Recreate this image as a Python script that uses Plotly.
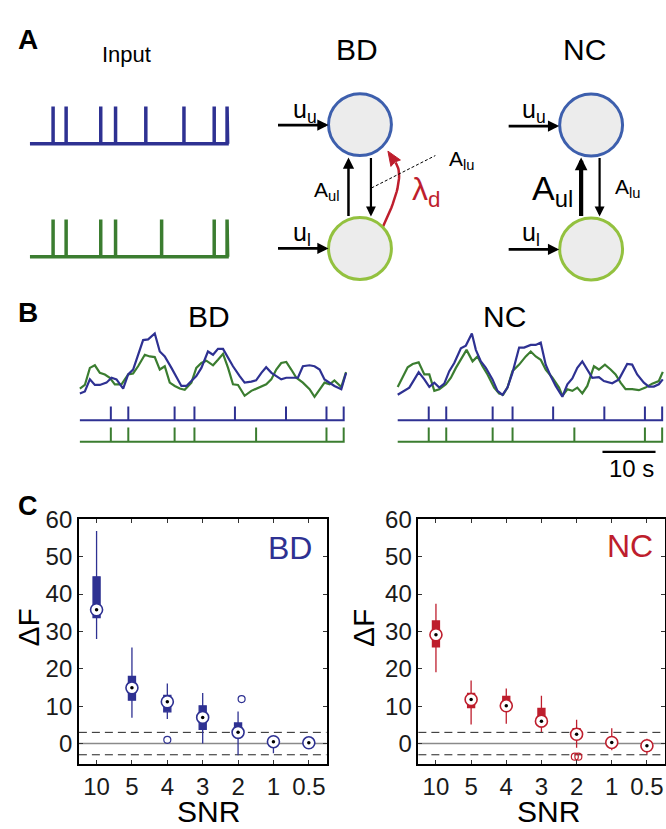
import plotly.graph_objects as go

W, H = 666, 829
FONT = "Liberation Sans, Arial, sans-serif"

# ---------------- data ----------------
snr_labels = ["10", "5", "4", "3", "2", "1", "0.5"]
snr_idx = [0, 1, 2, 3, 4, 5, 6]

bd_upper = [56.9, 25.7, 16.1, 13.5, 8.6, 0.9, 0.5]
bd_q3 = [44.6, 18.0, 12.9, 10.1, 5.5, 0.9, 0.5]
bd_median = [35.8, 14.9, 11.2, 7.0, 3.0, 0.5, 0.2]
bd_q1 = [33.7, 11.6, 8.5, 3.8, 2.6, 0.2, 0.0]
bd_lower = [28.0, 6.9, 6.6, 0.0, -3.1, -2.6, -0.3]
bd_out_x = [2.0, 4.1]
bd_out_y = [1.0, 11.9]

nc_upper = [37.4, 16.9, 14.7, 12.8, 6.4, 4.1, 1.3]
nc_q3 = [32.8, 13.4, 12.6, 9.4, 4.0, 1.3, 0.0]
nc_median = [29.1, 11.8, 10.1, 6.0, 2.5, 0.3, -0.6]
nc_q1 = [25.9, 9.6, 9.9, 5.8, 1.8, -0.2, -1.0]
nc_lower = [19.1, 5.1, 5.3, 3.1, -1.1, -1.8, -2.9]
nc_out_x = [3.95, 4.05]
nc_out_y = [-3.5, -3.5]

threshold = 3.0

# spike times (s)
spikes_upper = [5.85, 9.15, 17.9, 21.65, 29.3, 38.95, 46.6, 49.85]
spikes_lower = [5.85, 9.15, 17.9, 21.65, 33.3, 46.6, 49.85]
train_len = 50.0
scale_bar_s = 10

# BD traces
bd_t_blue = [0, 0.94, 1.89, 2.83, 3.77, 5.03, 5.98, 6.92, 8.18, 9.12, 10.06, 11.0, 11.95, 12.9, 14.15,
             15.1, 16.04, 17.3, 18.24, 19.18, 20.13, 21.07, 22.0, 22.96, 24.2, 25.16, 26.1, 27.05, 28.0,
             28.93, 30.2, 31.13, 32.4, 33.3, 34.3, 35.2, 36.2, 37.1, 38.05, 39.0, 40.26, 41.2, 42.14,
             43.4, 44.34, 45.3, 46.23, 47.2, 48.1, 49.4, 50.3]
bd_v_blue = [0.6, 0.9, 2.75, 1.9, 1.9, 2.25, 3.0, 2.75, 1.35, 3.5, 4.25, 6.5, 8.75, 8.85, 9.75, 7.0, 6.25,
             4.5, 3.0, 1.75, 1.75, 2.5, 3.25, 4.5, 7.0, 6.5, 7.4, 7.4, 6.0, 4.75, 3.25, 2.25, 2.4, 2.6,
             3.75, 4.6, 3.75, 3.25, 2.75, 3.0, 3.0, 3.0, 4.75, 4.9, 4.75, 4.25, 2.75, 2.25, 1.75, 1.25, 3.75]
bd_t_green = [0, 0.94, 1.89, 2.83, 3.77, 4.72, 5.66, 6.6, 7.86, 9.12, 10.06, 11.0, 12.27, 13.2, 14.15,
              15.1, 16.04, 16.98, 17.93, 18.87, 19.81, 21.07, 22.0, 22.96, 23.9, 25.16, 26.1, 27.05, 28.0,
              28.93, 29.88, 31.13, 32.4, 33.97, 35.22, 36.17, 37.11, 38.05, 39.0, 39.94, 40.9, 42.14,
              43.4, 44.34, 45.3, 46.23, 47.2, 48.1, 49.4, 50.3]
bd_v_green = [1.35, 1.9, 4.5, 4.9, 3.75, 3.5, 3.0, 2.0, 2.0, 3.5, 3.65, 4.75, 6.5, 6.25, 6.15, 4.25, 4.75,
              2.25, 1.75, 1.35, 1.15, 2.25, 4.5, 5.25, 5.6, 4.9, 5.75, 6.65, 4.5, 2.0, 1.9, 0.25, 1.0,
              1.5, 2.0, 2.75, 4.25, 5.25, 5.4, 4.25, 3.0, 2.25, 1.25, 0.1, 1.25, 2.25, 2.0, 2.6, 1.6, 3.85]

# NC traces
nc_t_blue = [0, 0.94, 2.19, 3.14, 3.95, 5.02, 5.96, 6.9, 7.84, 8.78, 9.72, 10.66, 11.91, 12.85, 13.98,
             14.73, 15.68, 16.62, 17.87, 18.81, 19.75, 20.69, 21.63, 22.89, 23.83, 25.08, 26.02, 26.96,
             27.9, 28.84, 29.78, 31.04, 31.98, 32.92, 33.86, 34.8, 35.74, 36.68, 37.93, 38.87, 40.44,
             41.7, 43.26, 44.2, 45.14, 46.4, 47.34, 48.28, 49.22, 49.97]
nc_v_blue = [0.4, 0.9, 1.5, 2.75, 3.85, 2.75, 1.6, 2.25, 1.5, 2.1, 4.0, 5.25, 7.5, 7.9, 9.75, 7.25, 5.5,
             4.5, 2.75, 1.0, 0.4, 1.5, 3.75, 7.6, 7.6, 8.0, 8.0, 8.35, 5.0, 3.25, 1.75, 0.1, 2.0, 2.9,
             4.5, 5.5, 4.25, 3.0, 3.1, 2.5, 2.15, 2.75, 5.1, 5.0, 3.5, 2.25, 1.65, 1.65, 2.0, 2.75]
nc_t_green = [0, 0.94, 1.88, 2.82, 3.95, 5.02, 5.96, 6.9, 7.84, 9.09, 10.03, 10.97, 11.91, 12.98, 14.11,
              15.05, 15.99, 16.93, 18.18, 19.12, 19.88, 20.69, 21.63, 22.89, 24.14, 25.08, 26.02, 26.96,
              27.9, 29.16, 30.41, 31.04, 31.98, 32.92, 33.86, 34.8, 35.74, 36.99, 37.93, 39.06, 40.13,
              41.07, 42.01, 42.95, 44.2, 45.46, 46.71, 47.97, 49.22, 49.97]
nc_v_green = [1.6, 3.0, 4.6, 5.1, 5.35, 3.5, 3.5, 1.0, 1.25, 2.0, 3.0, 4.5, 5.75, 7.25, 5.5, 6.25, 4.75,
              3.5, 1.5, 0.6, 0.4, 1.5, 4.0, 5.0, 6.25, 7.0, 6.25, 5.75, 4.25, 3.0, 1.5, 0.25, 1.25, 1.0,
              1.5, 0.6, 1.75, 4.75, 4.25, 5.0, 4.25, 3.5, 2.25, 1.25, 1.25, 1.1, 1.5, 2.1, 2.5, 3.9]

# ---------------- styles ----------------
NAVY = "#2e3192"
GREEN = "#3b7d30"
RED = "#be1e2d"
CIRC_BLUE = "#3d5fad"
CIRC_GREEN = "#93c13f"
CIRC_FILL = "#ececec"


def X(px):
    return px / W


def Y(py):
    return 1 - py / H


def xdom(a, b):
    return [max(0, a / W), min(1, b / W)]


def ydom(top, bottom):
    return [max(0, 1 - bottom / H), min(1, 1 - top / H)]


def spike_xy(times, length):
    xs, ys = [0.0], [0.0]
    for s in times:
        xs += [s, s, s]
        ys += [0, 1, 0]
    xs.append(length)
    ys.append(0)
    return xs, ys


fig = go.Figure()
layout = dict(width=W, height=H, margin=dict(l=0, r=0, t=0, b=0, pad=0),
              paper_bgcolor="white", plot_bgcolor="rgba(0,0,0,0)",
              showlegend=False, font=dict(family=FONT, color="black"))

hidden = dict(visible=False, showgrid=False, zeroline=False, fixedrange=True)

# ---------------- Panel A spike trains ----------------
layout["xaxis3"] = dict(hidden, domain=xdom(30 - 3.96, 30 + 51 * 3.96), range=[-1, 51], anchor="y3")
layout["yaxis3"] = dict(hidden, domain=ydom(94 - 0.1 * 38, 132 + 0.15 * 38), range=[-0.15, 1.1], anchor="x3")
layout["yaxis4"] = dict(hidden, domain=ydom(209 - 0.1 * 38, 247 + 0.15 * 38), range=[-0.15, 1.1], anchor="x3")
for times, col, ya in [(spikes_upper, NAVY, "y3"), (spikes_lower, GREEN, "y4")]:
    sx, sy = spike_xy(times, train_len)
    fig.add_trace(go.Scatter(x=sx, y=sy, mode="lines", line=dict(color=col, width=3.5),
                             xaxis="x3", yaxis=ya, hoverinfo="skip"))

# ---------------- Panel B ----------------
panels_b = [
    dict(xa="x4", ya=("y5", "y6", "y7"), x0=80, pps=5.3, xr=[-1, 51.5],
         tb=bd_t_blue, vb=bd_v_blue, tg=bd_t_green, vg=bd_v_green),
    dict(xa="x5", ya=("y8", "y9", "y10"), x0=398.3, pps=5.313, xr=[-1, 50.3],
         tb=nc_t_blue, vb=nc_v_blue, tg=nc_t_green, vg=nc_v_green),
]
for p in panels_b:
    xn = "xaxis" + p["xa"][1:]
    layout[xn] = dict(hidden, domain=xdom(p["x0"] + p["xr"][0] * p["pps"], p["x0"] + p["xr"][1] * p["pps"]),
                      range=p["xr"], anchor=p["ya"][0])
    yt, yb1, yb2 = p["ya"]
    layout["yaxis" + yt[1:]] = dict(hidden, domain=ydom(390 - 10.5 * 6.67, 390 + 0.5 * 6.67),
                                    range=[-0.5, 10.5], anchor=p["xa"])
    layout["yaxis" + yb1[1:]] = dict(hidden, domain=ydom(399.3 - 0.2 * 14, 413.3 + 0.3 * 14),
                                     range=[-0.3, 1.2], anchor=p["xa"])
    layout["yaxis" + yb2[1:]] = dict(hidden, domain=ydom(420.7 - 0.2 * 14.3, 435 + 0.3 * 14.3),
                                     range=[-0.3, 1.2], anchor=p["xa"])
    fig.add_trace(go.Scatter(x=p["tg"], y=p["vg"], mode="lines", line=dict(color=GREEN, width=2.2),
                             xaxis=p["xa"], yaxis=yt, hoverinfo="skip"))
    fig.add_trace(go.Scatter(x=p["tb"], y=p["vb"], mode="lines", line=dict(color=NAVY, width=2.2),
                             xaxis=p["xa"], yaxis=yt, hoverinfo="skip"))
    for times, col, ya in [(spikes_upper, NAVY, yb1), (spikes_lower, GREEN, yb2)]:
        sx, sy = spike_xy(times, train_len)
        fig.add_trace(go.Scatter(x=sx, y=sy, mode="lines", line=dict(color=col, width=2),
                                 xaxis=p["xa"], yaxis=ya, hoverinfo="skip"))

# ---------------- Panel C ----------------
cpanels = [
    dict(xa="x", ya="y", left=79, right=327, col=NAVY, up=bd_upper, q3=bd_q3, med=bd_median, q1=bd_q1,
         lo=bd_lower, ox=bd_out_x, oy=bd_out_y),
    dict(xa="x2", ya="y2", left=419, right=666 + 0.5, col=RED, up=nc_upper, q3=nc_q3, med=nc_median,
         q1=nc_q1, lo=nc_lower, ox=nc_out_x, oy=nc_out_y),
]
shapes = []
for c in cpanels:
    xn = "xaxis" + c["xa"][1:]
    yn = "yaxis" + c["ya"][1:]
    ax_common = dict(showline=True, linecolor="black", linewidth=1.6, mirror="ticks", ticks="inside",
                     ticklen=4, tickwidth=1, tickcolor="#333", showgrid=False, zeroline=False,
                     fixedrange=True, tickfont=dict(family=FONT, size=24, color="#1a1a1a"))
    layout[xn] = dict(ax_common, domain=xdom(c["left"], min(c["right"], 665.5)), range=[-0.5, 6.5],
                      tickvals=snr_idx, ticktext=snr_labels, anchor=c["ya"])
    layout[yn] = dict(ax_common, domain=ydom(514, 763), range=[-5.5, 60],
                      tickvals=[0, 10, 20, 30, 40, 50, 60], anchor=c["xa"])
    xref = c["xa"] + " domain"
    shapes.append(dict(type="line", xref=xref, yref=c["ya"], x0=0, x1=1, y0=0, y1=0,
                       line=dict(color="#8a8a8a", width=1.6), layer="below"))
    for yv in (threshold, -threshold):
        shapes.append(dict(type="line", xref=xref, yref=c["ya"], x0=0, x1=1, y0=yv, y1=yv,
                           line=dict(color="#222", width=1, dash="8px,5px"), layer="below"))
    fig.add_trace(go.Box(x=snr_idx, q1=c["q1"], median=c["med"], q3=c["q3"], lowerfence=c["lo"],
                         upperfence=c["up"], width=0.2, whiskerwidth=0, boxpoints=False,
                         fillcolor=c["col"], line=dict(color=c["col"], width=1.3),
                         xaxis=c["xa"], yaxis=c["ya"], hoverinfo="skip"))
    fig.add_trace(go.Scatter(x=snr_idx, y=c["med"], mode="markers",
                             marker=dict(symbol="circle", size=12, color="white",
                                         line=dict(color=c["col"], width=1.6)),
                             xaxis=c["xa"], yaxis=c["ya"], hoverinfo="skip"))
    fig.add_trace(go.Scatter(x=snr_idx, y=c["med"], mode="markers",
                             marker=dict(symbol="circle", size=3.5, color="black"),
                             xaxis=c["xa"], yaxis=c["ya"], hoverinfo="skip"))
    fig.add_trace(go.Scatter(x=c["ox"], y=c["oy"], mode="markers",
                             marker=dict(symbol="circle-open", size=7, color=c["col"], line=dict(width=1.2)),
                             xaxis=c["xa"], yaxis=c["ya"], hoverinfo="skip"))

# scale bar in panel B (NC time axis)
sb_start = 38.6
shapes.append(dict(type="line", xref="x5", yref="paper", x0=sb_start, x1=sb_start + scale_bar_s,
                   y0=Y(445.3), y1=Y(445.3), line=dict(color="black", width=2.2)))

# ---------------- Panel A schematic ----------------
def circle(cx, cy, r, col):
    return dict(type="circle", xref="paper", yref="paper", x0=X(cx - r), x1=X(cx + r),
                y0=Y(cy + r), y1=Y(cy - r), fillcolor=CIRC_FILL, line=dict(color=col, width=3))

R = 31.5
shapes += [circle(360.5, 112.5, R, CIRC_BLUE), circle(360.5, 238.5, R, CIRC_GREEN),
           circle(592, 113, R, CIRC_BLUE), circle(592, 239, R, CIRC_GREEN)]

# dashed line to A_lu label
shapes.append(dict(type="line", xref="paper", yref="paper", x0=X(372), y0=Y(177), x1=X(436), y1=Y(144),
                   line=dict(color="black", width=1, dash="3px,2px")))

# red curved arrow (lambda_d): drawn on a hidden full-figure canvas axis (pixel units)
layout["xaxis6"] = dict(hidden, domain=[0, 1], range=[0, W], anchor="y11")
layout["yaxis11"] = dict(hidden, domain=[0, 1], range=[H, 0], anchor="x6")
P0, C, P2 = (383.5, 216.5), (407.5, 166.0), (396.0, 151.0)
arc_x, arc_y = [], []
for i in range(25):
    t = i / 24
    arc_x.append((1 - t) ** 2 * P0[0] + 2 * (1 - t) * t * C[0] + t ** 2 * P2[0])
    arc_y.append((1 - t) ** 2 * P0[1] + 2 * (1 - t) * t * C[1] + t ** 2 * P2[1])
fig.add_trace(go.Scatter(x=arc_x, y=arc_y, mode="lines", line=dict(color=RED, width=2.5),
                         xaxis="x6", yaxis="y11", hoverinfo="skip"))
head = [(388.5, 139.5), (401.0, 148.5), (395.5, 150.5), (391.5, 155.0), (388.5, 139.5)]
fig.add_trace(go.Scatter(x=[p[0] for p in head], y=[p[1] for p in head], mode="lines", fill="toself",
                         fillcolor=RED, line=dict(color=RED, width=1),
                         xaxis="x6", yaxis="y11", hoverinfo="skip"))

annotations = []


def arrow(x, y, ax, ay, width=2.5, size=0.9):
    annotations.append(dict(x=X(x), y=Y(y), xref="paper", yref="paper", ax=ax, ay=ay, text="",
                            showarrow=True, arrowhead=2, arrowsize=size, arrowwidth=width,
                            arrowcolor="black"))


# input arrows
arrow(329, 113, -52, 0, 2.8, 0.8)
arrow(329, 238.5, -52, 0, 2.8, 0.8)
arrow(560, 114, -52, 0, 2.8, 0.8)
arrow(560, 239.5, -52, 0, 2.8, 0.8)
# coupling arrows
arrow(349, 146, 0, 60, 2.5, 0.9)
arrow(371.5, 206, 0, -60, 2.2, 0.9)
arrow(582, 146, 0, 60, 4.2, 0.6)
arrow(600.5, 206, 0, -60, 2.2, 0.9)


def text(s, x, y, size, color="black", bold=False, xanchor="center", yanchor="middle", angle=0):
    annotations.append(dict(text=f"<b>{s}</b>" if bold else s, x=X(x), y=Y(y), xref="paper", yref="paper",
                            showarrow=False, xanchor=xanchor, yanchor=yanchor, textangle=angle,
                            font=dict(family=FONT, size=size, color=color)))


text("A", 28.5, 26, 28, bold=True)
text("B", 28, 303.5, 28, bold=True)
text("C", 28, 500, 27, bold=True)
text("Input", 126.5, 41, 22)
text("BD", 357.5, 36, 30)
text("NC", 585, 36, 30)
text("u<sub>u</sub>", 291, 99, 25, xanchor="left")
text("u<sub>l</sub>", 291, 224, 25, xanchor="left")
text("u<sub>u</sub>", 521, 99, 25, xanchor="left")
text("u<sub>l</sub>", 521, 224, 25, xanchor="left")
text("A<sub>ul</sub>", 312, 180, 21, xanchor="left")
text("A<sub>lu</sub>", 448, 149, 21, xanchor="left")
text("λ<sub>d</sub>", 411, 181, 32, color=RED, xanchor="left")
text("A<sub>ul</sub>", 531, 180, 34, xanchor="left")
text("A<sub>lu</sub>", 614, 177, 21, xanchor="left")

# Panel B titles and scale label
text("BD", 209, 308, 30)
text("NC", 505, 308, 30)
text("10 s", 632, 462, 24)

# Panel C labels
text("BD", 290, 543, 32, color=NAVY)
text("NC", 631, 541, 32, color=RED)
text("ΔF", 29, 624, 30, angle=-90)
text("ΔF", 364, 624, 30, angle=-90)
text("SNR", 209, 811, 30)
text("SNR", 549, 811, 30)

layout["shapes"] = shapes
layout["annotations"] = annotations
fig.update_layout(**layout)
fig.write_html("out.html")
